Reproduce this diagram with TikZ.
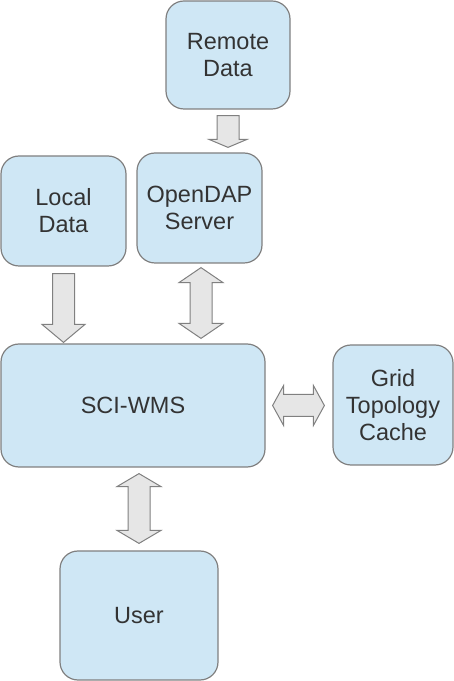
\documentclass[tikz,border=0pt]{standalone}
\usepackage{fontspec}
\setmainfont{Liberation Sans}
\usepackage{xcolor}
\usepackage{tikz}
\usetikzlibrary{calc}
\definecolor{wmsbleupale}{HTML}{CFE7F5}
\definecolor{wmsgris}{HTML}{808080}
\definecolor{wmsfleche}{HTML}{E6E6E6}
\definecolor{wmsdark}{HTML}{333333}

\begin{document}
\begin{tikzpicture}[
  x=1pt,y=1pt,
  box/.style={rectangle,rounded corners=18pt,draw=wmsgris,fill=wmsbleupale,line width=1.2pt,
    align=center,text=wmsdark,font=\fontsize{23.5}{27}\selectfont,inner sep=0pt},
  fat/.style 2 args={draw=wmsgris,fill=wmsfleche,line width=1pt,
    to path={($(\tikztostart)!11pt!90:(\tikztotarget)$)
      -- ($(\tikztotarget)!#1!(\tikztostart)!11pt!-90:(\tikztostart)$)
      -- ($(\tikztotarget)!#1!(\tikztostart)!#2!-90:(\tikztostart)$)
      -- (\tikztotarget)
      -- ($(\tikztotarget)!#1!(\tikztostart)!#2!90:(\tikztostart)$)
      -- ($(\tikztotarget)!#1!(\tikztostart)!11pt!90:(\tikztostart)$)
      -- ($(\tikztostart)!11pt!-90:(\tikztotarget)$) -- cycle}},
  dfat/.style 2 args={draw=wmsgris,fill=wmsfleche,line width=1pt,
    to path={($(\tikztostart)!#1!(\tikztotarget)!11pt!90:(\tikztotarget)$)
      -- ($(\tikztotarget)!#1!(\tikztostart)!11pt!-90:(\tikztostart)$)
      -- ($(\tikztotarget)!#1!(\tikztostart)!#2!-90:(\tikztostart)$)
      -- (\tikztotarget)
      -- ($(\tikztotarget)!#1!(\tikztostart)!#2!90:(\tikztostart)$)
      -- ($(\tikztotarget)!#1!(\tikztostart)!11pt!90:(\tikztostart)$)
      -- ($(\tikztostart)!#1!(\tikztotarget)!11pt!-90:(\tikztotarget)$)
      -- ($(\tikztostart)!#1!(\tikztotarget)!#2!-90:(\tikztotarget)$)
      -- (\tikztostart)
      -- ($(\tikztostart)!#1!(\tikztotarget)!#2!90:(\tikztotarget)$) -- cycle}}]
  \useasboundingbox (0,0) rectangle (454,681);
  \node[box,minimum width=124pt,minimum height=108pt] (remote) at (228,626) {Remote\\Data};
  \node[box,minimum width=125pt,minimum height=110pt] (opendap) at (199.5,473) {OpenDAP\\Server};
  \node[box,minimum width=125pt,minimum height=110pt] (local) at (63.5,470) {Local\\Data};
  \node[box,minimum width=264pt,minimum height=123pt] (sciwms) at (133,275.5) {SCI-WMS};
  \node[box,minimum width=120pt,minimum height=120pt] (grid) at (393,276) {Grid\\Topology\\Cache};
  \node[box,minimum width=158pt,minimum height=129pt] (user) at (139,65.5) {User};
  \draw[fat={8pt}{19pt}] ([yshift=-6pt]remote.south) to ([yshift=5pt]remote.south |- opendap.north);
  \draw[fat={18pt}{21.5pt}] ([yshift=-7pt]local.south) to ([yshift=1pt]local.south |- sciwms.north);
  \draw[dfat={15pt}{22pt}] ([xshift=1.5pt,yshift=-4pt]opendap.south) to ([xshift=1.5pt,yshift=5pt]opendap.south |- sciwms.north);
  \draw[dfat={11pt}{20pt}] ([xshift=7pt]sciwms.east) to ([xshift=-8pt]sciwms.east -| grid.west);
  \draw[dfat={13pt}{22pt}] ([yshift=-6pt]sciwms.south -| user.north) to ([yshift=7pt]user.north);
\end{tikzpicture}
\end{document}
